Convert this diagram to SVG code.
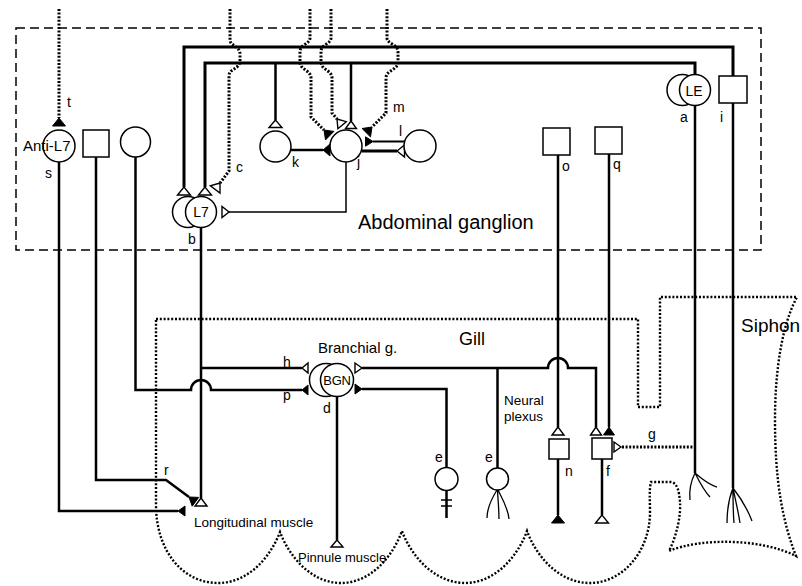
<svg xmlns="http://www.w3.org/2000/svg" width="802" height="586" viewBox="0 0 802 586">
<style>
.ln{fill:none;stroke:#000;stroke-width:2.5}
.thick{fill:none;stroke:#000;stroke-width:3}
.mid{fill:none;stroke:#000;stroke-width:2}
.thin{fill:none;stroke:#000;stroke-width:1.5}
.br{fill:none;stroke:#000;stroke-width:1.3}
.dot{fill:none;stroke:#000;stroke-width:3;stroke-dasharray:2 1.6}
.outline{fill:none;stroke:#000;stroke-width:2.4;stroke-dasharray:2 1.8}
.dash{fill:none;stroke:#000;stroke-width:1.5;stroke-dasharray:9 5}
.cell{fill:#fff;stroke:#000;stroke-width:1.5}
.open{fill:#fff;stroke:#000;stroke-width:1.4}
.fill{fill:#000;stroke:#000;stroke-width:1}
text{font-family:"Liberation Sans",Arial,Helvetica,sans-serif;fill:#000}
.lb{font-size:14px}
.ct{text-anchor:middle}
</style>
<rect width="802" height="586" fill="#fff"/>
<g id="regions">
<rect class="dash" x="16" y="28" width="745" height="222"/>
<path class="outline" d="M156,319 H638 V407 H660 V297 H797 C782,325 775,370 775,420 C775,480 782,520 796,556 C760,538 700,538 669,551 C677,535 681,515 680,502 C679,490 677,483 671,482 H651 C649,490 650,500 650,512 C650,552 622,583 590,583 C560,583 537,558 527,531 C517,558 494,583 465,583 C436,583 412,558 402,531 C392,558 370,583 341,583 C312,583 290,558 280,532 C270,558 248,583 218,583 C182,583 156,550 156,505 Z"/>
</g>
<g id="connectors">
<path class="thick" d="M184,187 V47 H733 V76"/>
<path class="thick" d="M205,187 V63 H695 V74.5"/>
<path class="ln" d="M275.5,63 V120"/>
<path class="ln" d="M351,63 V121"/>
<path class="thin" d="M346,162 V212 H229"/>
<path class="ln" d="M291,150 H323"/>
<path class="mid" d="M404.5,141.5 H373"/>
<path class="thick" d="M361.5,151 H397"/>
<path class="ln" d="M201,227.5 V498"/>
<path class="ln" d="M201,368 H302"/>
<path class="ln" d="M135.5,157 V390 H191 A10,10 0 0 1 211,390 H302"/>
<path class="ln" d="M96,157 V480 H166 L189,497"/>
<path class="ln" d="M59,162 V511 H178"/>
<path class="ln" d="M337,396.5 V540"/>
<path class="ln" d="M362,368 H548 A10,10 0 0 1 568,368 H596 V427"/>
<path class="ln" d="M362,389 H446.5 V467.5"/>
<path class="ln" d="M497.5,368 V468"/>
<path class="ln" d="M558,155 V427"/>
<path class="ln" d="M609,154 V427"/>
<path class="ln" d="M558,459 V515"/>
<path class="ln" d="M602,459 V515"/>
<path class="ln" d="M695,105.5 V473"/>
<path class="ln" d="M733,103 V488"/>
<path class="ln" d="M446.5,490.5 V518"/>
<path class="thin" d="M441,500 H452 M441,506 H452"/>
<path class="br" d="M497,490 C492,498 487,508 487,518 M497.5,490 C498,500 499,510 499,519 M498,490 C502,498 508,508 509,519"/>
<path class="br" d="M695,473 C691,481 689,491 690,500 M695,473 C700,483 704,491 710,497 M695,473 C703,480 710,485 717,487"/>
<path class="br" d="M733,488 C729,498 727,510 727,523 M733,488 C735,498 738,510 740,523 M733,488 C740,497 747,508 752,521 M733,488 C733,500 733,512 734,523"/>
<path class="dot" d="M59,9 V118"/>
<path class="dot" d="M230,9 V40 C230,46 240,46 240,54 V60 C240,70 229,68 229,76 V171 L220,183"/>
<path class="dot" d="M310,9 V38 C310,44 300,44 300,52 V62 C300,70 311,70 311,78 V117 L324,130"/>
<path class="dot" d="M331,9 V38 C331,44 321,44 321,52 V62 C321,70 332,70 332,78 V113 L337,119"/>
<path class="dot" d="M387,9 V38 C387,44 398,44 398,52 V62 C398,70 386,70 386,78 V113 L372,127"/>
<path class="dot" d="M696,447 H621"/>
<polygon class="open" points="184,187 177.5,195 190.5,195"/>
<polygon class="open" points="205,187 198.5,195 211.5,195"/>
<polygon class="open" points="220,183 220,193 210.4,185.8"/>
<polygon class="open" points="275.5,120 269,127.5 282,127.5"/>
<polygon class="open" points="351,121 345.5,128.5 356.5,128.5"/>
<polygon class="open" points="337,119 346.3,121.7 337.9,128.7"/>
<polygon class="fill" points="324,130 333.9,131.4 325.5,139.9"/>
<polygon class="fill" points="372,127 370.5,136.9 362.1,128.5"/>
<polygon class="fill" points="323,150 330,144 330,156"/>
<polygon class="fill" points="373,141.5 365.5,136.8 365.5,146.2"/>
<polygon class="open" points="397,151 404.5,145 404.5,157"/>
<polygon class="open" points="229,212 222,206.5 222,217.5"/>
<polygon class="fill" points="59,118 52.5,126 65.5,126"/>
<polygon class="open" points="302,368 308,363 308,373"/>
<polygon class="fill" points="302,390 308,385 308,395"/>
<polygon class="open" points="362,368 355,363 355,373"/>
<polygon class="fill" points="362,389 355,384 355,394"/>
<polygon class="open" points="558,427 552,435 564,435"/>
<polygon class="open" points="596,427 590.5,435 601.5,435"/>
<polygon class="fill" points="609,427 603.5,435 614.5,435"/>
<polygon class="fill" points="558,515 551.5,523 564.5,523"/>
<polygon class="open" points="602,515 595.5,523 608.5,523"/>
<polygon class="open" points="621,447 614,442 614,452"/>
<polygon class="open" points="201,498 195,506 207,506"/>
<polygon class="open" points="337,540 331,547 343,547"/>
<polygon class="fill" points="178,511 185,506 185,516"/>
<polygon class="fill" points="189,497 198.7,497.4 192.2,506.2"/>
</g>
<g id="anti-l7"><circle class="cell" cx="59" cy="146" r="16"/><text x="23" y="151" font-size="15">Anti-L7</text></g>
<g id="cell-sq1"><rect class="cell" x="83" y="130" width="26" height="27"/></g>
<g id="cell-c1"><circle class="cell" cx="135.5" cy="142" r="15"/></g>
<g id="l7"><circle class="cell" cx="188" cy="212" r="15.5"/><circle class="cell" cx="201" cy="212" r="15.5"/><text class="ct" x="201" y="217" font-size="14">L7</text></g>
<g id="k"><circle class="cell" cx="275.5" cy="146.5" r="15.5"/></g>
<g id="j"><circle class="cell" cx="346" cy="146" r="16"/></g>
<g id="l"><circle class="cell" cx="420" cy="146" r="16"/></g>
<g id="le"><circle class="cell" cx="682.5" cy="90" r="15.5"/><circle class="cell" cx="695" cy="90" r="15.5"/><text class="ct" x="694" y="96" font-size="14">LE</text></g>
<g id="i"><rect class="cell" x="719" y="76" width="28" height="27"/></g>
<g id="o"><rect class="cell" x="543" y="128" width="27" height="27"/></g>
<g id="q"><rect class="cell" x="595" y="127" width="27" height="27"/></g>
<g id="bgn"><circle class="cell" cx="326" cy="380" r="16.5"/><circle class="cell" cx="337" cy="380" r="16.5"/><text class="ct" x="337" y="385" font-size="13" letter-spacing="-0.3">BGN</text></g>
<g id="e1"><circle class="cell" cx="446.5" cy="479" r="11.5"/></g>
<g id="e2"><circle class="cell" cx="497.5" cy="479" r="11"/></g>
<g id="n"><rect class="cell" x="549" y="439" width="20" height="20"/></g>
<g id="f"><rect class="cell" x="592" y="438" width="20" height="21"/></g>
<g id="labels">
<text x="358" y="229" font-size="20">Abdominal ganglion</text>
<text x="459" y="345" font-size="18">Gill</text>
<text x="741" y="332" font-size="19">Siphon</text>
<text x="318" y="353" font-size="15">Branchial g.</text>
<text x="504" y="405" font-size="13.5">Neural</text>
<text x="504" y="421" font-size="13.5">plexus</text>
<text x="194" y="527" font-size="13.5">Longitudinal muscle</text>
<text x="298" y="562" font-size="13">Pinnule muscle</text>
<text class="lb" x="67" y="107">t</text>
<text class="lb" x="45" y="178">s</text>
<text class="lb" x="236" y="172">c</text>
<text class="lb" x="188" y="244">b</text>
<text class="lb" x="292" y="167">k</text>
<text class="lb" x="357" y="167">j</text>
<text class="lb" x="393" y="112">m</text>
<text class="lb" x="399" y="136">l</text>
<text class="lb" x="680" y="122">a</text>
<text class="lb" x="720" y="122">i</text>
<text class="lb" x="562" y="171">o</text>
<text class="lb" x="613" y="169">q</text>
<text class="lb" x="283" y="367">h</text>
<text class="lb" x="283" y="400">p</text>
<text class="lb" x="323" y="413">d</text>
<text class="lb" x="435" y="462">e</text>
<text class="lb" x="485" y="462">e</text>
<text class="lb" x="565" y="476">n</text>
<text class="lb" x="606" y="476">f</text>
<text class="lb" x="648" y="439">g</text>
<text class="lb" x="164" y="475">r</text>
</g>
</svg>
